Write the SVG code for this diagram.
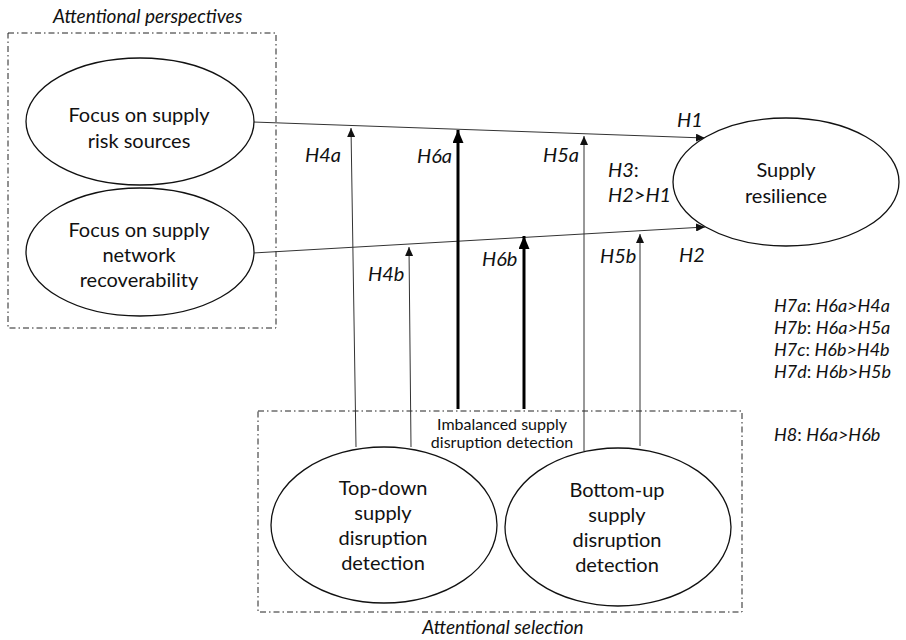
<svg xmlns="http://www.w3.org/2000/svg" width="906" height="640" viewBox="0 0 906 640">
<style>
text{font-family:Lato,"Open Sans","DejaVu Sans",sans-serif;fill:#111}
.n{font-size:20px;text-anchor:middle}
.s{font-size:16px;text-anchor:middle}
.i{font-size:20px;font-style:italic}
.l{font-size:18px;font-style:italic}
.up{font-style:normal}
.box{fill:none;stroke:#222;stroke-width:1;stroke-dasharray:6 3 1.5 3}
.el{fill:#fff;stroke:#111;stroke-width:1.3}
.thin{stroke:#333;stroke-width:1;fill:none;marker-end:url(#a)}
.thick{stroke:#000;stroke-width:3;fill:none;marker-end:url(#b)}
</style>
<defs>
<marker id="a" markerUnits="userSpaceOnUse" markerWidth="9" markerHeight="8" refX="9" refY="4" orient="auto"><path d="M0,0 L9,4 L0,8 z" fill="#111"/></marker>
<marker id="b" markerUnits="userSpaceOnUse" markerWidth="13" markerHeight="11" refX="13" refY="5.5" orient="auto"><path d="M0,0 L13,5.5 L0,11 z" fill="#000"/></marker>
</defs>
<g id="group-perspectives">
<rect class="box" x="8" y="33" width="268" height="295"/>
<text class="i" x="53" y="23" style="font-size:19px">Attentional perspectives</text>
</g>
<g id="group-selection">
<rect class="box" x="258" y="411" width="484" height="201"/>
<text class="i" x="503" y="634" text-anchor="middle" style="font-size:19px">Attentional selection</text>
</g>
<g id="connectors">
<line class="thin" x1="253" y1="122" x2="705" y2="138"/>
<line class="thin" x1="253" y1="253" x2="705" y2="227"/>
<line class="thin" x1="356" y1="447" x2="351" y2="128"/>
<line class="thin" x1="411" y1="447" x2="409" y2="247"/>
<line class="thick" x1="458" y1="409" x2="458" y2="130"/>
<line class="thick" x1="524" y1="409" x2="524" y2="236"/>
<line class="thin" x1="584" y1="451" x2="584" y2="136"/>
<line class="thin" x1="640" y1="446" x2="640" y2="234"/>
<text class="i" x="677" y="127">H1</text>
<text class="i" x="679" y="262">H2</text>
<text class="i" x="608" y="177">H3<tspan class="up">:</tspan></text>
<text class="i" x="608" y="202">H2&gt;H1</text>
<text class="i" x="305" y="162">H4a</text>
<text class="i" x="368" y="281">H4b</text>
<text class="i" x="417" y="163">H6a</text>
<text class="i" x="482" y="266">H6b</text>
<text class="i" x="543" y="162">H5a</text>
<text class="i" x="600" y="263">H5b</text>
</g>
<g id="node-risk">
<ellipse class="el" cx="140" cy="121.5" rx="114" ry="63.5"/>
<text class="n" x="139" y="122">Focus on supply</text>
<text class="n" x="139" y="148">risk sources</text>
</g>
<g id="node-recover">
<ellipse class="el" cx="140" cy="252" rx="114" ry="64"/>
<text class="n" x="139" y="237">Focus on supply</text>
<text class="n" x="139" y="262">network</text>
<text class="n" x="139" y="287">recoverability</text>
</g>
<g id="node-resilience">
<ellipse class="el" cx="786" cy="182" rx="113" ry="64"/>
<text class="n" x="786" y="177">Supply</text>
<text class="n" x="786" y="203">resilience</text>
</g>
<g id="label-imbalanced">
<text class="s" x="502" y="430">Imbalanced supply</text>
<text class="s" x="502" y="448">disruption detection</text>
</g>
<g id="node-topdown">
<ellipse class="el" cx="384" cy="525" rx="113" ry="78"/>
<text class="n" x="383" y="495">Top-down</text>
<text class="n" x="383" y="520">supply</text>
<text class="n" x="383" y="545">disruption</text>
<text class="n" x="383" y="570">detection</text>
</g>
<g id="node-bottomup">
<ellipse class="el" cx="618" cy="527" rx="113" ry="79"/>
<text class="n" x="617" y="497">Bottom-up</text>
<text class="n" x="617" y="522">supply</text>
<text class="n" x="617" y="547">disruption</text>
<text class="n" x="617" y="572">detection</text>
</g>
<g id="hypotheses-list">
<text class="l" x="774" y="312">H7a<tspan class="up">: </tspan>H6a&gt;H4a</text>
<text class="l" x="774" y="334">H7b<tspan class="up">: </tspan>H6a&gt;H5a</text>
<text class="l" x="774" y="356">H7c<tspan class="up">: </tspan>H6b&gt;H4b</text>
<text class="l" x="774" y="378">H7d<tspan class="up">: </tspan>H6b&gt;H5b</text>
<text class="l" x="774" y="441">H8<tspan class="up">: </tspan>H6a&gt;H6b</text>
</g>
</svg>
